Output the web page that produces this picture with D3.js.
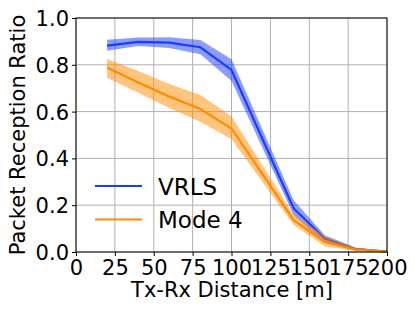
<!DOCTYPE html>
<html><head><meta charset="utf-8">
<script src="https://cdn.jsdelivr.net/npm/d3@7"></script>
<style>body{margin:0;background:#fff}svg{display:block}text{font-family:"DejaVu Sans",sans-serif}</style>
</head><body><svg id="c" width="415" height="311"></svg>
<script>
const distances = [20, 40, 60, 80, 100, 140, 160, 180, 200];
const vrlsMean  = [0.882, 0.898, 0.895, 0.875, 0.778, 0.186, 0.057, 0.012, 0.002];
const vrlsLow   = [0.860, 0.880, 0.872, 0.845, 0.731, 0.157, 0.040, 0.005, 0.000];
const vrlsHigh  = [0.907, 0.917, 0.918, 0.906, 0.824, 0.221, 0.072, 0.018, 0.004];
const mode4Mean = [0.788, 0.724, 0.664, 0.611, 0.528, 0.136, 0.043, 0.010, 0.002];
const mode4Low  = [0.745, 0.681, 0.615, 0.557, 0.482, 0.115, 0.025, 0.004, 0.000];
const mode4High = [0.825, 0.773, 0.718, 0.671, 0.580, 0.160, 0.068, 0.018, 0.004];
const xTicks = [0, 25, 50, 75, 100, 125, 150, 175, 200];
const yTicks = [0, 0.2, 0.4, 0.6, 0.8, 1.0];
const seriesNames = ["VRLS", "Mode 4"];
const seriesColors = ["#1a3cff", "#ff8c00"];

const svg = d3.select("#c");
const L = 76, R = 387, T = 18, B = 252;
const x = d3.scaleLinear().domain([0, 200]).range([L, R]);
const y = d3.scaleLinear().domain([0, 1]).range([B, T]);

// grid
const g = svg.append("g");
g.selectAll(".gx").data(xTicks).enter().append("line")
  .attr("x1", d => x(d)).attr("x2", d => x(d)).attr("y1", T).attr("y2", B)
  .attr("stroke", "#b0b0b0").attr("stroke-width", 1);
g.selectAll(".gy").data(yTicks).enter().append("line")
  .attr("y1", d => y(d)).attr("y2", d => y(d)).attr("x1", L).attr("x2", R)
  .attr("stroke", "#b0b0b0").attr("stroke-width", 1);

const series = [
  {mean: vrlsMean, low: vrlsLow, high: vrlsHigh},
  {mean: mode4Mean, low: mode4Low, high: mode4High}
];
const area = d3.area().x(d => x(d.x)).y0(d => y(d.lo)).y1(d => y(d.hi));
const line = d3.line().x(d => x(d.x)).y(d => y(d.v));
series.forEach((s, i) => {
  const pts = distances.map((dx, k) => ({x: dx, v: s.mean[k], lo: s.low[k], hi: s.high[k]}));
  svg.append("path").attr("d", area(pts)).attr("fill", seriesColors[i]).attr("fill-opacity", 0.5);
  svg.append("path").attr("d", line(pts)).attr("fill", "none")
    .attr("stroke", seriesColors[i]).attr("stroke-width", 2.2);
});

// axes
const xAxis = d3.axisBottom(x).tickValues(xTicks).tickFormat(d3.format("d")).tickSize(4).tickPadding(2);
const yAxis = d3.axisLeft(y).tickValues(yTicks).tickFormat(d3.format(".1f")).tickSize(4).tickPadding(3);
const gx = svg.append("g").attr("transform", `translate(0,${B})`).call(xAxis);
const gy = svg.append("g").attr("transform", `translate(${L},0)`).call(yAxis);
[gx, gy].forEach(a => {
  a.select(".domain").remove();
  a.selectAll("text").attr("font-size", 21).attr("fill", "#000").attr("font-family", "DejaVu Sans");
  a.selectAll("line").attr("stroke", "#000");
});
gy.selectAll("text").attr("dy", "0.36em");
gx.selectAll("text").attr("y", 0).attr("dy", 22.5);

svg.append("rect").attr("x", L).attr("y", T).attr("width", R - L).attr("height", B - T)
  .attr("fill", "none").attr("stroke", "#000").attr("stroke-width", 1);

svg.append("text").attr("x", 232).attr("y", 297).attr("text-anchor", "middle")
  .attr("font-size", 21).text("Tx-Rx Distance [m]");
svg.append("text").attr("transform", `translate(25,${(T + B) / 2}) rotate(-90)`)
  .attr("text-anchor", "middle").attr("font-size", 21).text("Packet Reception Ratio");

// legend
const leg = svg.append("g");
seriesNames.forEach((n, i) => {
  const yy = 186 + i * 33.5;
  leg.append("line").attr("x1", 95).attr("x2", 142).attr("y1", yy).attr("y2", yy)
    .attr("stroke", seriesColors[i]).attr("stroke-width", 2.2);
  leg.append("text").attr("x", 158).attr("y", yy + 8.5).attr("font-size", 23).text(n);
});
</script></body></html>
